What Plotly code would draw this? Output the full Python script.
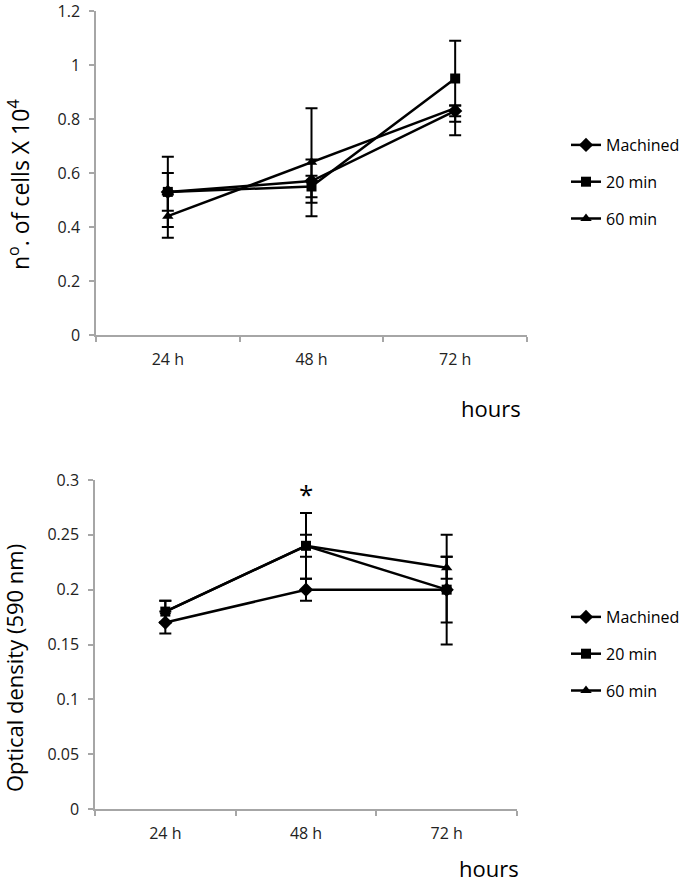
import plotly.graph_objects as go

categories = ["24 h", "48 h", "72 h"]
series_names = ["Machined", "20 min", "60 min"]
symbols = ["diamond", "square", "triangle-up"]

# Top chart: number of cells x 10^4
cells_machined = [0.53, 0.57, 0.83]
cells_20 = [0.53, 0.55, 0.95]
cells_60 = [0.44, 0.64, 0.84]
cells_machined_err_plus = [0.07, 0.08, 0.02]
cells_machined_err_minus = [0.07, 0.08, 0.04]
cells_20_err_plus = [0.13, 0.04, 0.14]
cells_20_err_minus = [0.13, 0.04, 0.14]
cells_60_err_plus = [0.08, 0.20, 0.01]
cells_60_err_minus = [0.08, 0.20, 0.10]

# Bottom chart: optical density (590 nm)
od_machined = [0.17, 0.20, 0.20]
od_20 = [0.18, 0.24, 0.20]
od_60 = [0.18, 0.24, 0.22]
od_machined_err = [0.01, 0.01, 0.03]
od_20_err = [0.01, 0.03, 0.05]
od_60_err = [0.01, 0.01, 0.01]

top_ticks = [0, 0.2, 0.4, 0.6, 0.8, 1.0, 1.2]
top_ticktext = ["0", "0.2", "0.4", "0.6", "0.8", "1", "1.2"]
bot_ticks = [0, 0.05, 0.1, 0.15, 0.2, 0.25, 0.3]
bot_ticktext = ["0", "0.05", "0.1", "0.15", "0.2", "0.25", "0.3"]

FONT = "Open Sans"
AX_COLOR = "#A6A6A6"

fig = go.Figure()

top_data = [
    (cells_machined, cells_machined_err_plus, cells_machined_err_minus),
    (cells_20, cells_20_err_plus, cells_20_err_minus),
    (cells_60, cells_60_err_plus, cells_60_err_minus),
]
for i, (vals, ep, em) in enumerate(top_data):
    fig.add_trace(go.Scatter(
        x=categories, y=vals, name=series_names[i], mode="lines+markers",
        line=dict(color="black", width=2.5),
        marker=dict(symbol=symbols[i], size=10 if i else 11, color="black"),
        error_y=dict(type="data", array=ep, arrayminus=em, symmetric=False,
                     color="black", thickness=2, width=6),
        xaxis="x", yaxis="y", legend="legend", legendgroup="t%d" % i,
    ))

bot_data = [
    (od_machined, od_machined_err),
    (od_20, od_20_err),
    (od_60, od_60_err),
]
for i, (vals, e) in enumerate(bot_data):
    fig.add_trace(go.Scatter(
        x=categories, y=vals, name=series_names[i], mode="lines+markers",
        line=dict(color="black", width=2.5),
        marker=dict(symbol=symbols[i], size=10 if i else 11, color="black"),
        error_y=dict(type="data", array=e, color="black", thickness=2, width=6),
        xaxis="x2", yaxis="y2", legend="legend2", legendgroup="b%d" % i,
    ))

xaxis_common = dict(
    type="category", range=[-0.5, 2.5], showline=True, linecolor=AX_COLOR, linewidth=1.5,
    ticks="outside", tickson="boundaries", ticklen=5, tickcolor=AX_COLOR, tickwidth=1.5,
    showgrid=False, zeroline=False, tickfont=dict(family=FONT, size=16, color="#222"),
    fixedrange=True, automargin=False, ticklabelstandoff=9,
)
yaxis_common = dict(
    showline=True, linecolor=AX_COLOR, linewidth=1.5, ticks="outside", ticklen=5,
    tickcolor=AX_COLOR, tickwidth=1.5, showgrid=False, zeroline=False,
    tickfont=dict(family=FONT, size=16, color="#222"), automargin=False,
    ticklabelstandoff=6, ticklabeloverflow="allow",
)

legend_common = dict(
    font=dict(family=FONT, size=16, color="black"), traceorder="grouped",
    tracegroupgap=13, bgcolor="rgba(0,0,0,0)", xanchor="left", yanchor="top",
    itemwidth=30,
)

fig.update_layout(
    width=685, height=885,
    margin=dict(l=0, r=0, t=0, b=0, autoexpand=False),
    paper_bgcolor="white", plot_bgcolor="white",
    showlegend=True,
    xaxis=dict(domain=[96 / 685, 527 / 685], anchor="y", **xaxis_common),
    yaxis=dict(domain=[1 - 335 / 885, 1 - 11 / 885], anchor="x", range=[0, 1.2],
               tickvals=top_ticks, ticktext=top_ticktext, **yaxis_common),
    xaxis2=dict(domain=[95 / 685, 517 / 685], anchor="y2", **xaxis_common),
    yaxis2=dict(domain=[1 - 809 / 885, 1 - 480 / 885], anchor="x2", range=[0, 0.3],
                tickvals=bot_ticks, ticktext=bot_ticktext, **yaxis_common),
    legend=dict(x=566 / 685, y=1 - 128 / 885, **legend_common),
    legend2=dict(x=566 / 685, y=1 - 600 / 885, **legend_common),
    annotations=[
        dict(text="n<sup>o</sup>. of cells X 10<sup>4</sup>", textangle=-90,
             xref="paper", yref="paper", x=19 / 685, y=1 - 185 / 885,
             xanchor="center", yanchor="middle", showarrow=False,
             font=dict(family=FONT, size=23, color="black")),
        dict(text="Optical density (590 nm)", textangle=-90,
             xref="paper", yref="paper", x=14 / 685, y=1 - 668 / 885,
             xanchor="center", yanchor="middle", showarrow=False,
             font=dict(family=FONT, size=22, color="black")),
        dict(text="hours", xref="paper", yref="paper", x=491 / 685, y=1 - 408 / 885,
             xanchor="center", yanchor="middle",
             showarrow=False, font=dict(family=FONT, size=22, color="black")),
        dict(text="hours", xref="paper", yref="paper", x=489 / 685, y=0,
             xanchor="center", yanchor="bottom",
             showarrow=False, font=dict(family=FONT, size=22, color="black")),
        dict(text="*", xref="x2", yref="y2", x="48 h", y=0.287,
             showarrow=False, font=dict(family=FONT, size=26, color="black")),
    ],
)

fig.write_html(
    "out.html",
    config={"displayModeBar": False},
    post_script="document.body.style.margin='0';document.body.style.overflow='hidden';",
)
